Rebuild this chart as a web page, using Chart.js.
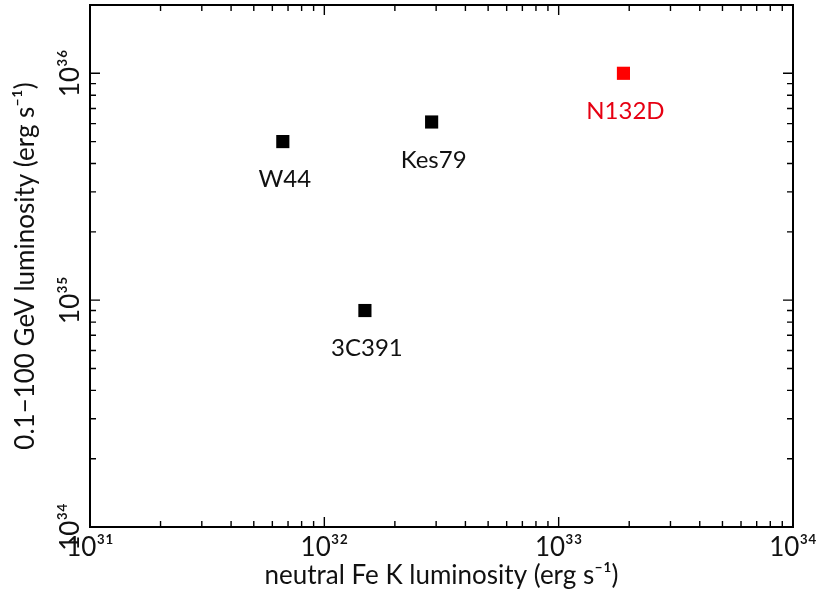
<!DOCTYPE html>
<html>
<head>
<meta charset="utf-8">
<script src="https://cdn.jsdelivr.net/npm/chart.js@4.4.1/dist/chart.umd.min.js"></script>
<style>
  html, body { margin: 0; padding: 0; background: #fff; }
  #wrap { width: 823px; height: 593px; }
</style>
</head>
<body>
<div id="wrap"><canvas id="chart"></canvas></div>
<script>
// remnant names and luminosities
const names = ["W44", "Kes79", "3C391", "N132D"];
const feK = [6.65e31, 2.87e32, 1.49e32, 1.89e33];   // neutral Fe K luminosity
const gev = [5.0e35, 6.1e35, 9.0e34, 1.0e36];      // 0.1-100 GeV luminosity
const pointColors = ["#000000", "#000000", "#000000", "#ff0000"];
const labelColors = ["#111111", "#111111", "#111111", "#e60012"];

const xRange = [1e31, 1e34];
const yRange = [1e34, 2e36];

const FONT = "Lato, 'Open Sans', 'DejaVu Sans', sans-serif";

const supDigits = { "0": "⁰", "1": "¹", "2": "²", "3": "³", "4": "⁴", "5": "⁵", "6": "⁶", "7": "⁷", "8": "⁸", "9": "⁹" };
const pow10 = (v) => "10" + String(Math.round(Math.log10(v))).split("").map(d => supDigits[d]).join("");
const isDecade = (v) => Math.abs(Math.log10(v) - Math.round(Math.log10(v))) < 1e-9;

// all 1..9 x 10^n ticks inside the range
function logTicks(min, max) {
  const out = [];
  for (let e = Math.floor(Math.log10(min)); e <= Math.ceil(Math.log10(max)); e++) {
    for (let m = 1; m < 10; m++) {
      const v = m * Math.pow(10, e);
      if (v >= min * 0.999 && v <= max * 1.001) out.push(v);
    }
  }
  return out;
}

// inward ticks on all four sides plus the frame
const frame = {
  id: "frame",
  afterDraw(chart) {
    const { ctx, chartArea: a, scales } = chart;
    ctx.save();
    ctx.strokeStyle = "#000";
    ctx.lineWidth = 1.4;
    scales.x.ticks.forEach(t => {
      const px = scales.x.getPixelForValue(t.value);
      const len = isDecade(t.value) ? 10 : 6;
      ctx.beginPath();
      ctx.moveTo(px, a.bottom); ctx.lineTo(px, a.bottom - len);
      ctx.moveTo(px, a.top); ctx.lineTo(px, a.top + len);
      ctx.stroke();
    });
    scales.y.ticks.forEach(t => {
      const py = scales.y.getPixelForValue(t.value);
      const len = isDecade(t.value) ? 10 : 6;
      ctx.beginPath();
      ctx.moveTo(a.left, py); ctx.lineTo(a.left + len, py);
      ctx.moveTo(a.right, py); ctx.lineTo(a.right - len, py);
      ctx.stroke();
    });
    ctx.lineWidth = 2;
    ctx.strokeRect(a.left, a.top, a.right - a.left, a.bottom - a.top);
    ctx.restore();
  }
};

// names under each marker
const pointNames = {
  id: "pointNames",
  afterDatasetsDraw(chart) {
    const { ctx } = chart;
    const meta = chart.getDatasetMeta(0);
    ctx.save();
    ctx.font = "24px " + FONT;
    ctx.textAlign = "center";
    ctx.textBaseline = "middle";
    meta.data.forEach((el, i) => {
      ctx.fillStyle = labelColors[i];
      ctx.fillText(names[i], el.x + 2, el.y + 38);
    });
    ctx.restore();
  }
};

new Chart(document.getElementById("chart"), {
  type: "scatter",
  data: {
    datasets: [{
      data: feK.map((v, i) => ({ x: v, y: gev[i] })),
      pointStyle: "rect",
      pointRadius: 9.3,
      pointHoverRadius: 9.3,
      pointBackgroundColor: pointColors,
      pointBorderColor: pointColors,
      pointBorderWidth: 0
    }]
  },
  options: {
    responsive: true,
    maintainAspectRatio: false,
    animation: false,
    layout: { autoPadding: false, padding: { top: 5, right: 30, left: 0, bottom: 0 } },
    plugins: { legend: { display: false }, tooltip: { enabled: false } },
    scales: {
      x: {
        type: "logarithmic",
        min: xRange[0],
        max: xRange[1],
        afterBuildTicks: (s) => { s.ticks = logTicks(xRange[0], xRange[1]).map(v => ({ value: v, major: isDecade(v) })); },
        afterFit: (s) => { s.height = 66; s.paddingLeft = 0; s.paddingRight = 0; },
        grid: { display: false, drawTicks: false },
        border: { display: false },
        ticks: {
          autoSkip: false,
          maxRotation: 0,
          padding: 5,
          color: "#111",
          font: { family: FONT, size: 26 },
          callback: (v) => isDecade(v) ? pow10(v) : ""
        },
        title: {
          display: true,
          text: "neutral Fe K luminosity (erg s⁻¹)",
          color: "#111",
          font: { family: FONT, size: 26 },
          padding: { top: 0, bottom: 2 }
        }
      },
      y: {
        type: "logarithmic",
        min: yRange[0],
        max: yRange[1],
        afterBuildTicks: (s) => { s.ticks = logTicks(yRange[0], yRange[1]).map(v => ({ value: v, major: isDecade(v) })); },
        afterFit: (s) => { s.width = 90; s.paddingTop = 0; s.paddingBottom = 0; },
        grid: { display: false, drawTicks: false },
        border: { display: false },
        ticks: {
          autoSkip: false,
          minRotation: 90,
          maxRotation: 90,
          crossAlign: "center",
          padding: -4,
          color: "#111",
          font: { family: FONT, size: 26 },
          callback: (v) => isDecade(v) ? pow10(v) : ""
        },
        title: {
          display: true,
          text: "0.1−100 GeV luminosity (erg s⁻¹)",
          color: "#111",
          font: { family: FONT, size: 26 },
          padding: { top: 10, bottom: 0 }
        }
      }
    }
  },
  plugins: [frame, pointNames]
});
</script>
</body>
</html>
